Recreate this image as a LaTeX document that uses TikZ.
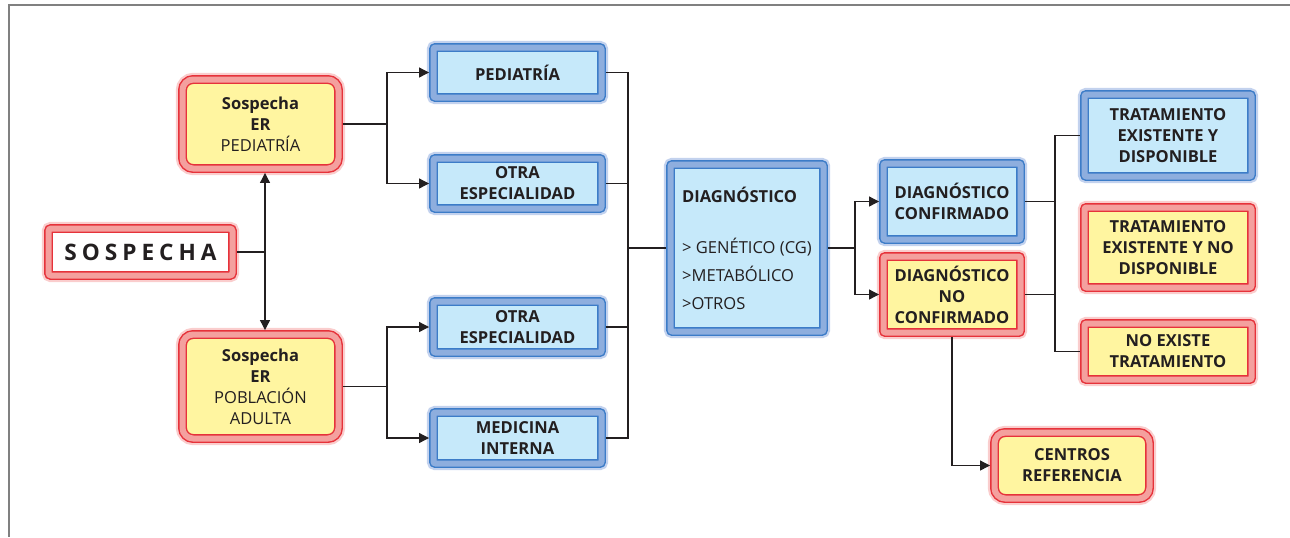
\documentclass[tikz,border=0pt]{standalone}
\usepackage{fontspec}
\setmainfont{Open Sans}
\usetikzlibrary{arrows.meta}
\definecolor{rojolinea}{RGB}{230,50,58}
\definecolor{rojobanda}{RGB}{244,160,158}
\definecolor{rojobrillo}{RGB}{250,205,205}
\definecolor{amarillo}{RGB}{255,245,160}
\definecolor{azullinea}{RGB}{60,124,200}
\definecolor{azulbanda}{RGB}{142,174,222}
\definecolor{azulbrillo}{RGB}{195,210,238}
\definecolor{celeste}{RGB}{198,233,250}
\definecolor{texto}{RGB}{35,31,32}
\tikzset{
    every node/.style={inner sep=0pt, outer sep=3.35pt, text=texto, align=center,
    	font=\fontsize{12.4}{15.75}\selectfont\bfseries}
}
\tikzset{
    caja/.style={rectangle, line width=1.1pt, double distance=4.5pt, rounded corners=1.5pt},
    caja roja/.style={caja, draw=rojolinea, double=rojobanda, fill=amarillo,
    	preaction={draw=rojobrillo, line width=10pt}},
    caja azul/.style={caja, draw=azullinea, double=azulbanda, fill=celeste,
    	preaction={draw=azulbrillo, line width=10pt}},
    caja redonda/.style={caja roja, rounded corners=8pt}
}
\tikzset{
	linea/.style={draw=texto, line width=0.9pt},
	>={Triangle[length=7.5pt,width=7.5pt]}
}

\begin{document}
\begin{tikzpicture}[x=0.75pt, y=-0.75pt]
	\useasboundingbox (0,0) rectangle (1290,537);
	\draw[draw=gray, line width=1.1pt] (1290,5) -- (9,5) -- (9,537);

	\node (sos) [caja roja, fill=white, rounded corners=2pt, minimum width=138pt, minimum height=35.25pt,
		font=\fontsize{17}{20}\selectfont\bfseries\addfontfeature{LetterSpace=22}] at (140.5,252) {SOSPECHA};
	\node (sped) [caja redonda, minimum width=117pt, minimum height=66.75pt] at (260.5,124) {Sospecha\\ER\\\mdseries PEDIATRÍA};
	\node (sadu) [caja redonda, minimum width=117pt, minimum height=78pt] at (260.5,386.5) {Sospecha\\ER\\\mdseries POBLACIÓN\\\mdseries ADULTA};

	\node (ped) [caja azul, minimum width=126pt, minimum height=37.5pt] at (517.5,72.5) {PEDIATRÍA};
	\node (esp1) [caja azul, minimum width=126pt, minimum height=37.5pt] at (517.5,183.5) {OTRA\\ESPECIALIDAD};
	\node (esp2) [caja azul, minimum width=126pt, minimum height=38.25pt] at (517.5,327) {OTRA\\ESPECIALIDAD};
	\node (med) [caja azul, minimum width=126pt, minimum height=38.25pt] at (517.5,438) {MEDICINA\\INTERNA};

	\node (diag) [caja azul, minimum width=114.75pt, minimum height=125.25pt, align=left] at (747,248)
		{DIAGNÓSTICO\\[22.5pt]\mdseries > GENÉTICO (CG)\\[5.25pt]\mdseries >METABÓLICO\\[5.25pt]\mdseries >OTROS};

	\node (dconf) [caja azul, minimum width=102.75pt, minimum height=57pt] at (952,201.5) {DIAGNÓSTICO\\CONFIRMADO};
	\node (dnoconf) [caja roja, minimum width=102.75pt, minimum height=57pt] at (952,294.5) {DIAGNÓSTICO\\NO\\CONFIRMADO};

	\node (tdisp) [caja azul, minimum width=125.25pt, minimum height=61.5pt] at (1168,135.5) {TRATAMIENTO\\EXISTENTE Y\\DISPONIBLE};
	\node (tnodisp) [caja roja, minimum width=125.25pt, minimum height=60pt] at (1168,247.5) {TRATAMIENTO\\EXISTENTE Y NO\\DISPONIBLE};
	\node (noex) [caja roja, minimum width=125.25pt, minimum height=42pt] at (1168,351.5) {NO EXISTE\\TRATAMIENTO};
	\node (centros) [caja redonda, minimum width=116.25pt, minimum height=49.5pt] at (1072,465.5) {CENTROS\\REFERENCIA};

	\coordinate (j0) at (265,252);
	\coordinate (j1) at (387,124);
	\coordinate (j2) at (387,386.5);
	\coordinate (j3) at (628,248);
	\coordinate (j4) at (855,248);
	\coordinate (j5) at (1055,248);

	\draw[linea] (sos.east) -- (j0);
	\draw[linea, ->] (j0) -- (j0 |- sped.south); \draw[linea, ->] (j0) -- (j0 |- sadu.north);
	\draw[linea] (sped.east) -- (j1); \draw[linea] (sadu.east) -- (j2);
	\draw[linea, ->] (j1) |- (ped.west); \draw[linea, ->] (j1) |- (esp1.west);
	\draw[linea, ->] (j2) |- (esp2.west); \draw[linea, ->] (j2) |- (med.west);
	\draw[linea] (ped.east) -| (j3); \draw[linea] (esp1.east) -| (j3);
	\draw[linea] (esp2.east) -| (j3); \draw[linea] (med.east) -| (j3);
	\draw[linea] (j3) -- (diag.west);
	\draw[linea] (diag.east) -- (j4);
	\draw[linea, ->] (j4) |- (dconf.west); \draw[linea, ->] (j4) |- (dnoconf.west);
	\draw[linea] (dconf.east) -- (dconf.east -| j5); \draw[linea] (dnoconf.east) -- (dnoconf.east -| j5);
	\draw[linea] (tdisp.west) -| (j5) |- (noex.west);
	\draw[linea, ->] (dnoconf.south) |- (centros.west);
\end{tikzpicture}
\end{document}
